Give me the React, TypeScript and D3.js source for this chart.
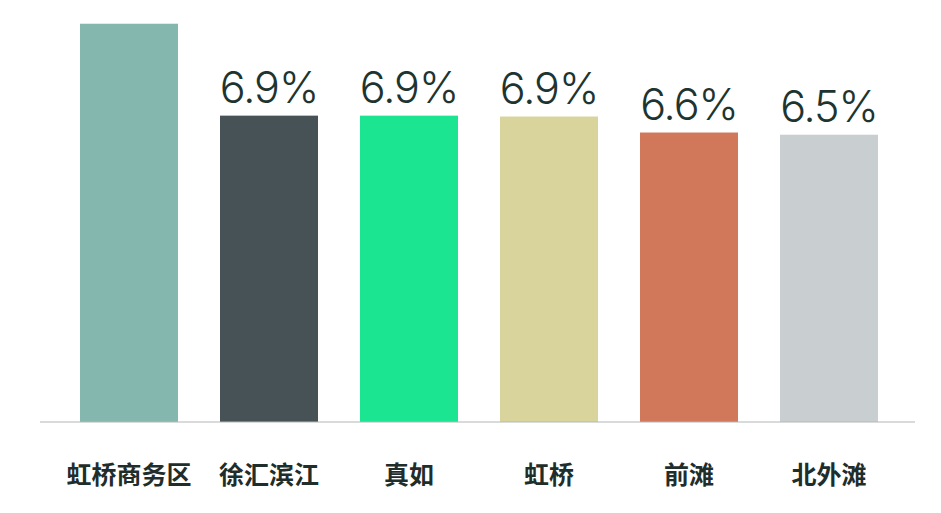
import React from "react";
import * as d3 from "d3";

const categories = ["虹桥商务区", "徐汇滨江", "真如", "虹桥", "前滩", "北外滩"];
const values = [8.97, 6.9, 6.9, 6.88, 6.52, 6.47];
const valueLabels = ["", "6.9%", "6.9%", "6.9%", "6.6%", "6.5%"];
const colors = ["#84b8ae", "#465256", "#1ce591", "#d8d49b", "#d1775a", "#c9cfd0"];

const W = 941;
const H = 513;
const BASE = 422;

export default function App() {
  const x = d3
    .scaleBand<string>()
    .domain(categories)
    .range([59, 899])
    .paddingInner(0.3)
    .paddingOuter(0.15);
  const y = d3.scaleLinear().domain([0, 10]).range([BASE, BASE - 444]);

  return (
    <svg
      width={W}
      height={H}
      style={{ position: "absolute", left: 0, top: 0, background: "#ffffff" }}
    >
      <rect width={W} height={H} fill="#ffffff" />
      {categories.map((c, i) => {
        const bx = x(c)!;
        const by = y(values[i]);
        return (
          <g key={c}>
            <rect
              x={bx}
              y={by}
              width={x.bandwidth()}
              height={BASE - by}
              fill={colors[i]}
            />
            {valueLabels[i] && (
              <text
                x={bx + x.bandwidth() / 2}
                y={by - 13}
                textAnchor="middle"
                fontFamily="Inter, 'Open Sans', sans-serif"
                fontWeight={300}
                fontSize={43}
                letterSpacing={-1}
                fill="#1d3431"
              >
                {valueLabels[i]}
              </text>
            )}
            <text
              x={bx + x.bandwidth() / 2}
              y={484}
              textAnchor="middle"
              fontFamily="'Noto Sans CJK SC', sans-serif"
              fontWeight={700}
              fontSize={25}
              fill="#1f2d2b"
            >
              {c}
            </text>
          </g>
        );
      })}
      <line x1={40} x2={915} y1={BASE} y2={BASE} stroke="#b3b8b8" strokeWidth={1.2} />
    </svg>
  );
}
